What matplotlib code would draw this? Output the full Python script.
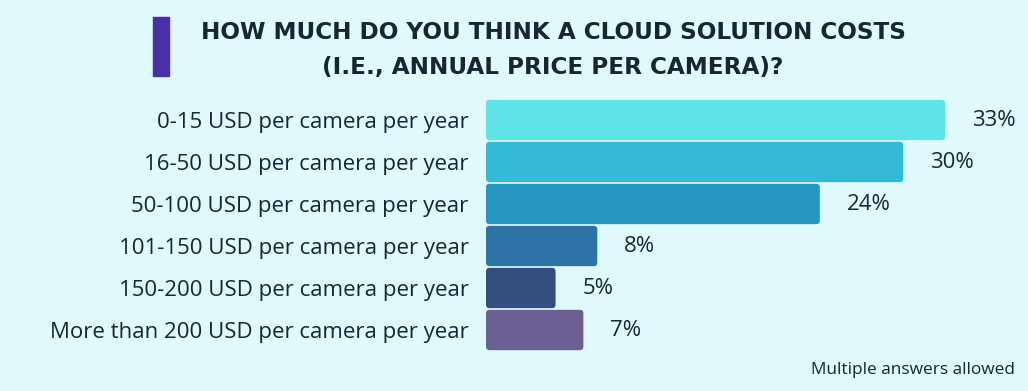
import matplotlib
matplotlib.use("Agg")
import matplotlib.pyplot as plt
from matplotlib.patches import Rectangle, FancyBboxPatch

categories = [
    "0-15 USD per camera per year",
    "16-50 USD per camera per year",
    "50-100 USD per camera per year",
    "101-150 USD per camera per year",
    "150-200 USD per camera per year",
    "More than 200 USD per camera per year",
]
values = [33, 30, 24, 8, 5, 7]
value_labels = ["33%", "30%", "24%", "8%", "5%", "7%"]
colors = ["#5DE3E8", "#33BAD5", "#2596C1", "#2C73A8", "#344E80", "#6B5F93"]

title = "HOW MUCH DO YOU THINK A CLOUD SOLUTION COSTS\n(I.E., ANNUAL PRICE PER CAMERA)?"
note = "Multiple answers allowed"

BG = "#E0F9FC"
TXT = "#152733"
W, H = 1028, 391
FONT = "Open Sans"

fig = plt.figure(figsize=(W / 100, H / 100), dpi=100, facecolor=BG)
ax = fig.add_axes([486 / W, 1 - 351 / H, (945 - 486) / W, (351 - 99) / H])
ax.set_facecolor(BG)

ypos = list(range(len(categories)))
bars = ax.barh(ypos, values, height=0.96, color=colors, edgecolor="none")
ax.set_xlim(0, 33)
ax.set_ylim(len(categories) - 0.5, -0.5)

# replace plain bars with slightly rounded ones
for b, c in zip(bars, colors):
    b.set_visible(False)
    p = FancyBboxPatch((b.get_x(), b.get_y()), b.get_width(), b.get_height(),
                       boxstyle="round,pad=0,rounding_size=0.25",
                       mutation_aspect=0.33, facecolor=c, edgecolor="none")
    ax.add_patch(p)

for s in ax.spines.values():
    s.set_visible(False)
ax.set_xticks([])
ax.set_yticks(ypos)
ax.set_yticklabels(categories, fontsize=16, color=TXT, family=FONT)
ax.tick_params(axis="y", length=0, pad=12.5)

for y, v, lab in zip(ypos, values, value_labels):
    ax.annotate(lab, (v, y), xytext=(27, 0), textcoords="offset pixels",
                ha="left", va="center", fontsize=16, color=TXT, family=FONT)

# title accent bar
fig.patches.append(Rectangle((153 / W, 1 - 76 / H), 16 / W, 59 / H,
                             transform=fig.transFigure, color="#4A2FA8", zorder=3))
fig.text(553 / W, 1 - 50 / H, title, ha="center", va="center", fontsize=16.7,
         fontweight="bold", color=TXT, family="DejaVu Sans", linespacing=1.7)
fig.text(1015 / W, 1 - 370 / H, note, ha="right", va="center", fontsize=12.4,
         color=TXT, family=FONT)

fig.savefig("out.png", dpi=100, facecolor=BG)
